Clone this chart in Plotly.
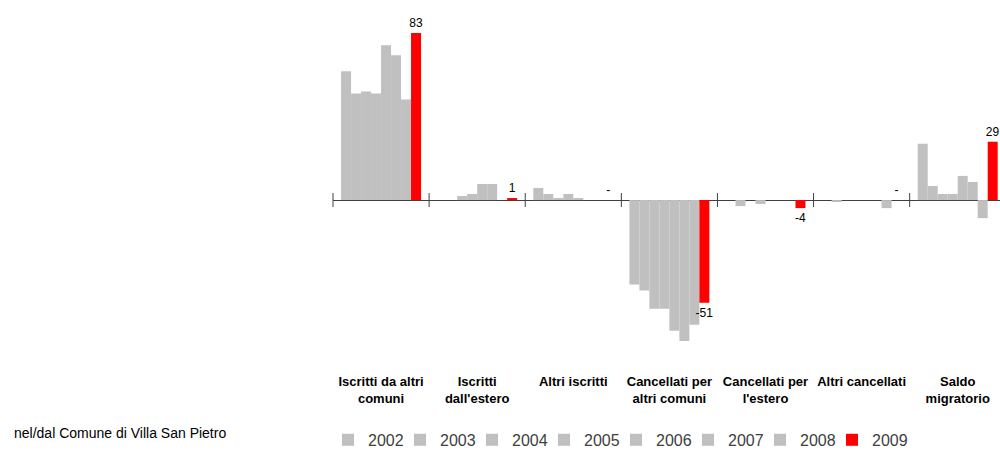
import plotly.graph_objects as go

categories = ["Iscritti da altri<br>comuni", "Iscritti<br>dall'estero", "Altri iscritti",
              "Cancellati per<br>altri comuni", "Cancellati per<br>l'estero", "Altri cancellati",
              "Saldo<br>migratorio"]
years = ["2002", "2003", "2004", "2005", "2006", "2007", "2008", "2009"]

# one list per year, same order as categories
v2002 = [64, 0, 6, -42, 0, 0, 28]
v2003 = [53, 0, 3, -45, -3, -1, 7]
v2004 = [54, 2, 1, -54, 0, 0, 3]
v2005 = [53, 3, 3, -54, -2, 0, 3]
v2006 = [77, 8, 1, -65, 0, 0, 12]
v2007 = [72, 8, 0, -70, 0, 0, 9]
v2008 = [50, 0, 0, -62, 0, -4, -9]
v2009 = [83, 1, 0, -51, -4, 0, 29]

series = [v2002, v2003, v2004, v2005, v2006, v2007, v2008, v2009]
xpos = list(range(len(categories)))
bounds = [i - 0.5 for i in range(len(categories) + 1)]

fig = go.Figure()
for yr, vals in zip(years, series):
    last = yr == "2009"
    fig.add_trace(go.Bar(
        x=xpos, y=vals, name=yr,
        marker=dict(color="#FF0000" if last else "#C0C0C0", line=dict(width=0)),
        text=[("-" if v == 0 else str(v)) for v in vals] if last else None,
        textposition="outside" if last else "none",
        textfont=dict(family="Liberation Sans, Arial", size=12, color="#000000"),
        constraintext="none",
        cliponaxis=False,
    ))

# tick marks crossing the zero line between groups
fig.add_trace(go.Scatter(
    x=bounds, y=[0] * len(bounds), mode="markers", showlegend=False, hoverinfo="skip",
    marker=dict(symbol="line-ns-open", size=10, color="#404040",
                line=dict(width=1, color="#404040")),
    cliponaxis=False,
))
# empty legend entry so the last year label is not clipped
fig.add_trace(go.Scatter(x=[None], y=[None], mode="markers", name=" ",
                         marker=dict(color="rgba(0,0,0,0)"), hoverinfo="skip"))

fig.add_annotation(text="nel/dal Comune di Villa San Pietro", xref="paper", yref="paper",
                   x=-0.481, y=-0.215, xanchor="left", yanchor="middle", showarrow=False,
                   font=dict(family="Liberation Sans, Arial", size=14, color="#000000"))

fig.update_layout(
    width=1000, height=460,
    margin=dict(l=333, r=0, t=20, b=100),
    paper_bgcolor="white", plot_bgcolor="white",
    barmode="group", bargap=0.168, bargroupgap=0,
    font=dict(family="Liberation Sans, Arial", color="#000000"),
    xaxis=dict(range=[-0.5, 6.44], tickvals=xpos, ticktext=["<b>%s</b>" % c for c in categories],
               tickfont=dict(size=13), ticklabelstandoff=12,
               showline=False, showgrid=False, ticks="", zeroline=False),
    yaxis=dict(range=[-79.5, 89.5], showticklabels=False, showgrid=False, ticks="",
               zeroline=True, zerolinecolor="#404040", zerolinewidth=1),
    legend=dict(orientation="h", x=-0.0075, y=-0.235, xanchor="left", yanchor="middle",
                font=dict(size=16, color="#404040"), entrywidth=27, itemwidth=30,
                traceorder="normal"),
    showlegend=True,
)

# drop the default page margin so the figure sits at the window's corner
fig.write_html("out.html", config={"displayModeBar": False},
               post_script="document.body.style.margin='0';document.body.style.overflow='hidden';")
